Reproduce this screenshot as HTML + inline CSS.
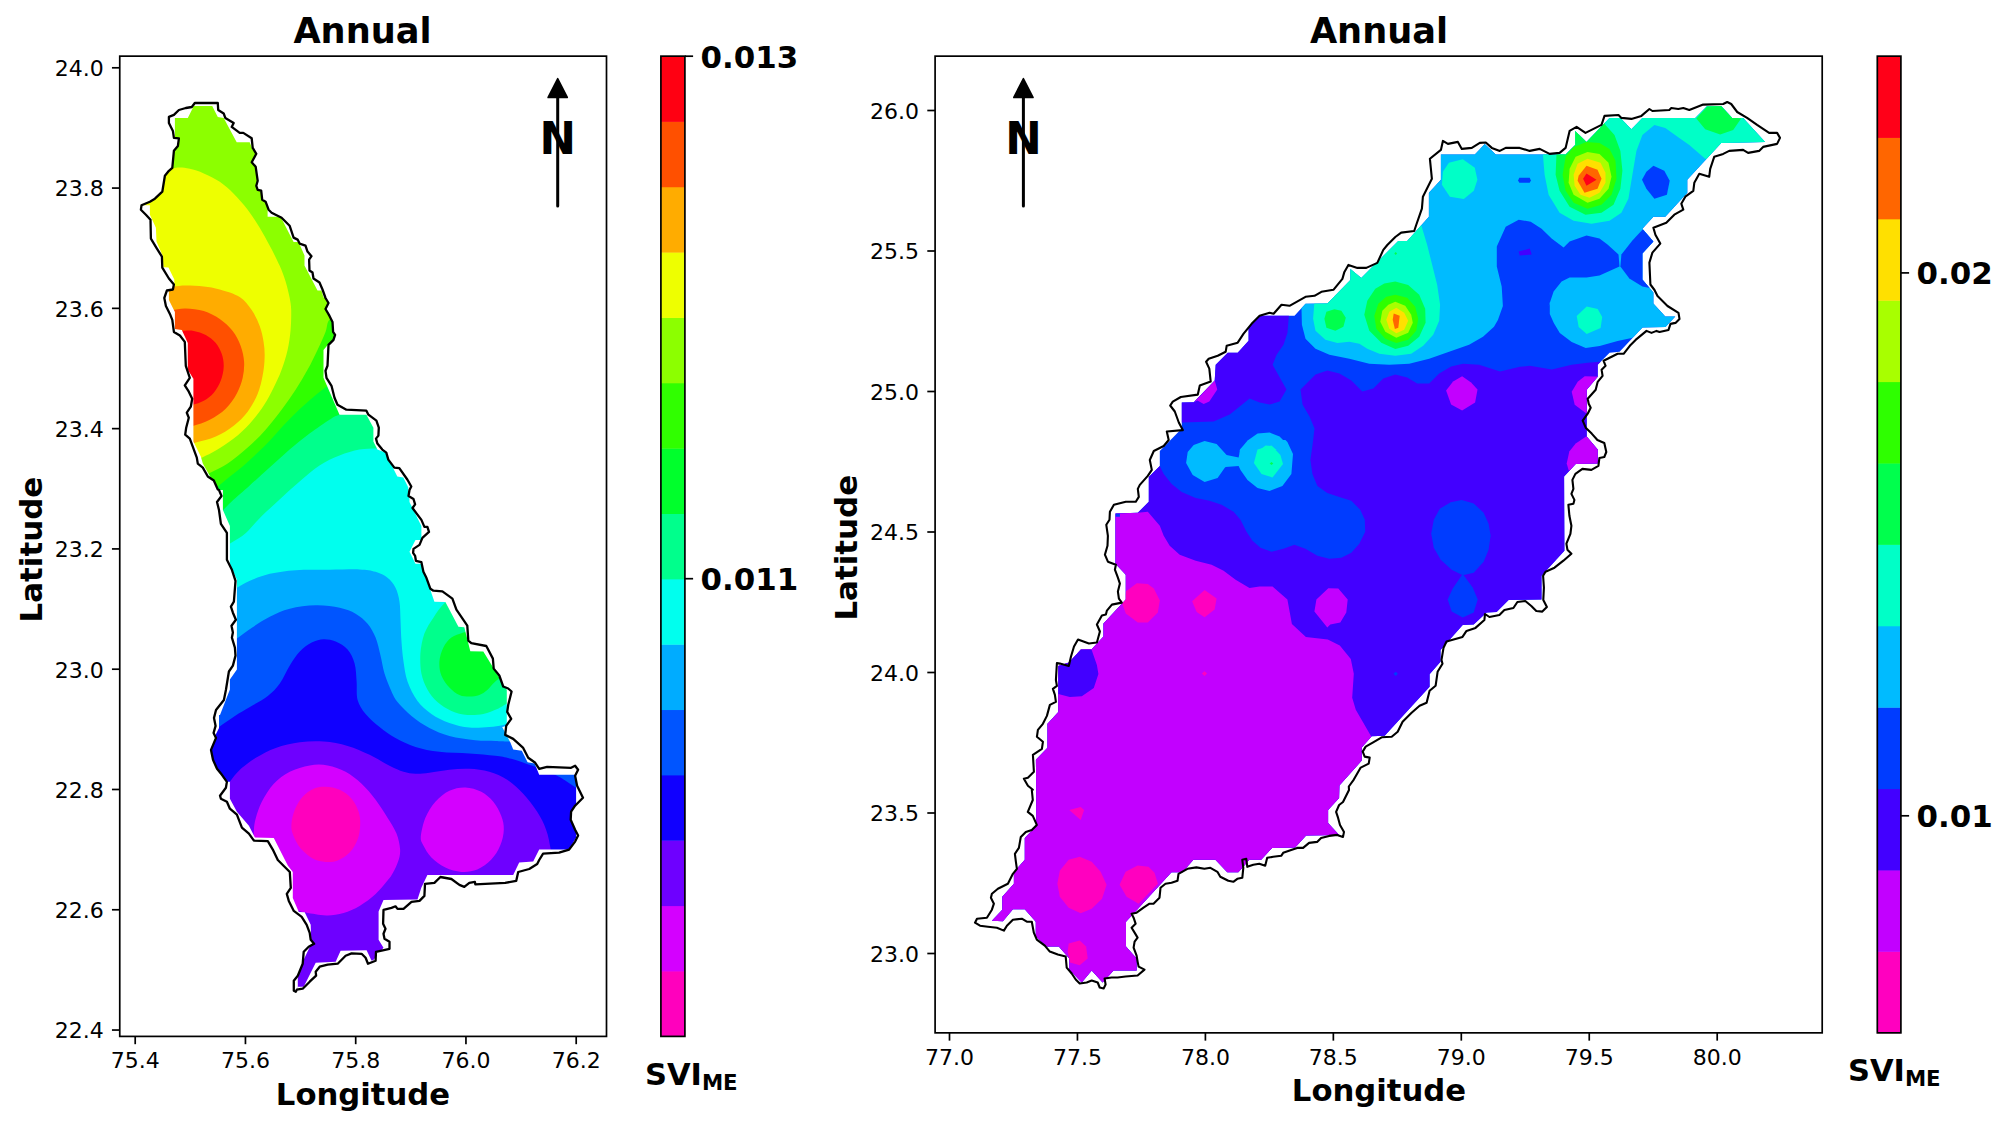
<!DOCTYPE html>
<html lang="en"><head><meta charset="utf-8"><title>Annual SVI maps</title>
<style>html,body{margin:0;padding:0;background:#fff}body{width:2008px;height:1128px;overflow:hidden}svg{display:block}</style>
</head><body>
<svg width="2008" height="1128" viewBox="0 0 2008 1128" font-family="'DejaVu Sans','Liberation Sans',sans-serif" fill="#000">
<rect width="2008" height="1128" fill="#fff"/>
<g>
<clipPath id="clip1"><path d="M194.8 103.0 L217.8 103.0 L218.2 110.0 L223.7 113.5 L225.3 117.9 L233.7 122.9 L231.7 126.9 L239.7 132.9 L243.3 132.9 L251.7 138.3 L252.7 147.9 L256.3 153.8 L251.7 162.2 L255.7 166.8 L257.7 180.8 L256.3 185.8 L257.7 189.8 L261.2 190.7 L262.2 199.7 L265.6 201.7 L268.6 209.7 L271.6 212.7 L281.6 217.7 L289.6 225.7 L293.6 237.6 L297.6 239.6 L299.6 243.6 L305.5 245.6 L307.5 251.6 L311.5 256.2 L309.1 259.6 L309.5 270.5 L312.5 272.5 L313.5 278.5 L319.5 282.5 L322.5 289.5 L325.5 298.0 L328.5 303.0 L325.5 309.0 L329.5 315.9 L332.5 321.9 L333.1 331.9 L335.1 334.9 L333.5 339.9 L328.5 344.9 L327.5 365.8 L325.5 370.8 L326.5 377.8 L331.5 385.8 L334.5 397.7 L337.5 404.7 L346.4 409.7 L366.4 410.7 L368.4 414.7 L376.4 420.7 L378.8 427.7 L378.4 435.6 L376.0 438.6 L377.4 443.6 L382.3 449.6 L386.3 452.6 L388.3 459.6 L394.3 467.6 L399.3 468.2 L407.3 479.5 L411.3 486.5 L409.5 490.0 L408.5 496.0 L413.5 499.0 L415.1 504.4 L412.5 508.0 L421.4 519.9 L424.4 526.9 L427.4 526.9 L429.0 531.9 L422.4 537.9 L419.5 544.9 L413.5 548.9 L413.1 552.8 L415.1 555.8 L415.9 560.8 L421.4 562.2 L423.4 571.8 L426.4 577.8 L430.4 588.8 L433.4 590.7 L442.4 591.3 L452.4 598.7 L456.4 609.7 L467.3 625.7 L468.3 640.6 L471.3 643.2 L486.3 646.0 L492.9 658.6 L493.7 668.6 L499.3 675.5 L503.2 686.5 L508.2 688.5 L511.6 691.5 L508.2 705.0 L507.2 711.9 L511.2 718.9 L506.2 725.9 L505.2 734.9 L513.2 738.9 L523.2 747.9 L528.2 757.8 L535.2 762.8 L539.2 768.8 L547.1 766.8 L571.1 767.8 L575.1 765.8 L578.1 769.8 L575.1 775.8 L577.1 785.8 L583.0 797.7 L575.1 805.7 L571.1 811.7 L570.7 819.7 L575.1 829.7 L578.1 835.6 L575.1 841.6 L569.1 849.6 L559.1 852.6 L543.1 853.6 L539.2 860.0 L537.2 864.0 L529.2 869.0 L518.2 872.0 L516.2 880.9 L505.2 882.9 L475.3 884.3 L474.9 881.9 L469.3 882.9 L464.3 886.9 L459.4 884.9 L451.4 879.0 L440.4 877.0 L434.4 882.9 L425.0 883.9 L424.4 895.9 L419.5 900.9 L411.5 901.9 L403.5 908.9 L397.5 908.9 L395.5 906.3 L391.5 907.9 L383.5 909.9 L383.1 923.8 L385.5 928.8 L383.5 933.8 L384.5 938.8 L389.5 941.8 L389.5 948.8 L376.0 951.8 L375.6 960.7 L368.0 963.7 L365.6 957.8 L361.6 953.8 L351.6 953.4 L345.6 955.8 L337.7 963.7 L327.7 964.7 L319.7 966.7 L315.7 971.7 L316.1 975.7 L309.7 981.7 L302.7 988.7 L296.8 989.7 L295.8 991.7 L293.8 990.7 L293.8 980.7 L297.8 975.7 L302.7 963.7 L303.7 951.8 L308.7 946.8 L314.1 943.8 L310.7 939.8 L309.7 932.8 L306.7 924.8 L301.7 916.9 L293.8 910.9 L288.8 900.9 L286.8 893.9 L290.8 887.9 L289.8 872.0 L283.8 866.0 L277.8 860.0 L272.8 849.6 L267.8 841.2 L253.9 840.6 L248.9 833.6 L241.9 827.7 L236.9 814.7 L229.9 808.7 L226.9 801.7 L220.9 798.7 L220.0 795.7 L225.9 787.8 L226.9 781.8 L221.9 774.8 L217.0 768.8 L213.0 759.8 L211.0 749.9 L216.0 737.9 L213.6 732.9 L215.6 725.9 L214.0 717.9 L216.0 710.0 L223.9 700.0 L225.9 690.0 L228.9 671.5 L232.9 665.6 L235.5 655.6 L234.9 647.6 L231.9 637.6 L232.9 632.6 L231.5 625.7 L235.9 619.7 L232.9 612.7 L230.9 606.7 L233.9 601.7 L235.5 580.8 L231.9 569.8 L226.9 559.8 L226.9 532.9 L220.9 523.9 L219.0 510.0 L217.0 502.0 L221.5 496.0 L219.0 490.0 L217.8 489.5 L213.8 480.5 L207.8 476.5 L202.8 467.6 L197.8 463.6 L196.8 457.6 L189.8 438.6 L185.2 434.6 L186.2 427.7 L188.8 417.7 L186.8 412.7 L190.8 406.7 L192.2 398.7 L188.8 391.7 L184.8 385.4 L189.8 377.8 L185.8 365.8 L184.8 341.9 L179.9 335.5 L173.9 331.9 L172.3 319.9 L169.9 313.9 L165.9 306.0 L164.3 298.0 L166.9 290.5 L172.9 289.5 L173.9 284.5 L168.9 278.5 L162.3 267.6 L161.9 256.6 L156.9 248.6 L150.9 238.6 L150.5 219.7 L145.9 214.7 L140.9 209.7 L141.5 205.3 L149.9 201.7 L154.9 198.7 L162.3 191.7 L164.9 175.8 L168.9 170.8 L172.3 167.8 L173.9 150.8 L177.9 145.9 L178.9 138.3 L173.9 137.9 L172.9 130.9 L168.9 122.9 L168.9 116.9 L173.9 114.9 L178.9 110.0 L185.8 108.0 L191.8 107.0 Z"/></clipPath>
<g clip-path="url(#clip1)">
<rect x="120" y="90" width="480" height="920" fill="#8cff00"/>
<path d="M155.9 169.8 C158.6 169.5 168.3 168.6 172.3 168.2 C176.3 167.8 176.9 167.3 179.9 167.4 C182.8 167.5 185.8 167.8 189.8 168.8 C193.8 169.8 198.8 171.2 203.8 173.4 C208.8 175.6 214.8 178.4 219.8 181.8 C224.7 185.2 229.1 189.1 233.7 193.7 C238.4 198.4 243.4 204.0 247.7 209.7 C252.0 215.4 256.0 221.7 259.7 227.7 C263.3 233.6 266.3 239.3 269.6 245.6 C273.0 251.9 276.9 259.6 279.6 265.6 C282.3 271.5 283.9 276.2 285.6 281.5 C287.2 286.8 288.6 292.7 289.6 297.5 C290.5 302.2 291.0 304.5 291.2 310.0 C291.3 315.4 291.2 323.3 290.6 329.9 C290.0 336.6 289.1 343.2 287.6 349.9 C286.1 356.5 283.9 363.5 281.6 369.8 C279.3 376.1 276.6 381.8 273.6 387.8 C270.6 393.7 267.6 399.7 263.6 405.7 C259.7 411.7 254.7 418.2 249.7 423.7 C244.7 429.2 239.4 434.1 233.7 438.6 C228.1 443.1 220.9 447.5 215.8 450.6 C210.6 453.7 207.4 455.0 202.8 457.2 C198.1 459.3 190.3 462.5 187.8 463.6 L130.0 480.0 L130.0 160.0 Z" fill="#eeff00"/>
<path d="M159.9 287.5 C162.1 287.3 168.5 286.8 172.9 286.5 C177.2 286.2 180.7 285.5 185.8 285.5 C191.0 285.5 198.1 285.8 203.8 286.5 C209.4 287.2 213.8 287.8 219.8 289.5 C225.7 291.2 234.4 293.6 239.7 297.0 C245.0 300.4 248.3 305.1 251.7 310.0 C255.0 314.8 257.7 320.6 259.7 325.9 C261.6 331.2 262.8 336.6 263.6 341.9 C264.5 347.2 264.8 352.2 264.6 357.8 C264.5 363.5 263.8 369.8 262.6 375.8 C261.5 381.8 260.1 387.8 257.7 393.7 C255.2 399.7 251.7 406.4 247.7 411.7 C243.7 417.0 239.0 421.5 233.7 425.7 C228.4 429.8 222.1 433.8 215.8 436.6 C209.4 439.5 201.8 441.0 195.8 442.6 C189.8 444.3 182.5 445.9 179.9 446.6 L140.0 450.0 L140.0 285.0 Z" fill="#ffac00"/>
<path d="M159.9 310.9 C161.8 310.8 167.1 310.4 171.5 310.0 C175.8 309.5 180.4 308.2 185.8 308.4 C191.2 308.5 198.1 309.2 203.8 310.9 C209.4 312.7 214.9 315.6 219.8 318.9 C224.6 322.3 229.2 326.4 232.7 330.9 C236.2 335.4 238.8 340.7 240.7 345.9 C242.6 351.0 243.8 356.5 244.1 361.8 C244.4 367.1 243.9 372.5 242.7 377.8 C241.5 383.1 239.5 388.6 236.7 393.7 C233.9 398.9 230.2 404.4 225.7 408.7 C221.2 413.0 215.3 416.8 209.8 419.7 C204.3 422.6 197.8 424.4 192.8 426.1 C187.8 427.7 182.0 429.1 179.9 429.7 L140.0 430.0 L140.0 310.0 Z" fill="#ff5000"/>
<path d="M175.9 331.9 C176.9 331.7 178.9 331.1 181.8 330.9 C184.8 330.7 189.8 330.2 193.8 330.9 C197.8 331.6 202.1 332.9 205.8 334.9 C209.4 336.9 213.1 339.7 215.8 342.9 C218.4 346.0 220.4 349.9 221.7 353.8 C223.1 357.8 223.9 362.3 223.7 366.8 C223.6 371.3 222.4 376.5 220.7 380.8 C219.1 385.1 216.6 389.4 213.8 392.7 C210.9 396.1 207.3 398.7 203.8 400.7 C200.3 402.7 196.1 403.7 192.8 404.7 C189.5 405.7 185.3 406.4 183.8 406.7 L150.0 400.0 L150.0 330.0 Z" fill="#ff0012"/>
<path d="M339.5 313.9 C337.7 314.9 331.4 316.9 329.1 319.9 C326.7 322.9 327.4 326.9 325.5 331.9 C323.6 336.9 320.5 343.5 317.5 349.9 C314.5 356.2 311.2 363.2 307.5 369.8 C303.9 376.5 299.9 383.1 295.6 389.8 C291.2 396.4 286.6 403.1 281.6 409.7 C276.6 416.4 271.3 423.3 265.6 429.7 C260.0 436.0 254.0 442.0 247.7 447.6 C241.4 453.3 233.9 459.4 227.7 463.6 C221.6 467.7 216.1 469.9 210.8 472.5 C205.5 475.2 198.3 478.4 195.8 479.5 L120.0 520.0 L120.0 1010.0 L620.0 1010.0 L620.0 300.0 Z" fill="#30ff00"/>
<path d="M336.2 381.3 C334.2 382.5 327.9 385.8 324.1 388.4 C320.3 391.0 317.6 393.3 313.5 396.9 C309.3 400.4 304.0 405.2 299.3 409.6 C294.6 414.1 289.8 418.9 285.1 423.8 C280.4 428.8 275.7 434.5 270.9 439.4 C266.2 444.4 261.5 449.1 256.7 453.6 C252.0 458.1 247.3 462.4 242.6 466.4 C237.8 470.4 232.2 474.7 228.4 477.7 C224.6 480.8 223.2 482.2 219.9 484.8 C216.5 487.4 210.4 491.9 208.5 493.3 L120.0 540.0 L120.0 1010.0 L620.0 1010.0 L620.0 350.0 Z" fill="#00ff2c"/>
<path d="M355.4 411.7 C352.8 412.2 343.8 413.4 339.5 414.7 C335.1 416.0 334.5 416.5 329.5 419.7 C324.5 422.8 316.2 428.7 309.5 433.6 C302.9 438.6 296.2 443.9 289.6 449.6 C282.9 455.3 276.3 461.6 269.6 467.6 C263.0 473.5 256.0 479.9 249.7 485.5 C243.4 491.2 236.3 497.2 231.7 501.5 C227.1 505.7 225.2 508.4 221.9 510.9 C218.7 513.5 213.6 515.9 212.0 516.9 L120.0 560.0 L120.0 1010.0 L620.0 1010.0 L620.0 400.0 Z" fill="#00ff8c"/>
<path d="M387.3 447.6 C385.5 447.8 381.0 448.3 376.4 448.6 C371.7 448.9 365.6 448.4 359.4 449.6 C353.3 450.8 346.1 452.9 339.5 455.6 C332.8 458.2 326.2 461.2 319.5 465.6 C312.9 469.9 306.2 475.9 299.6 481.5 C292.9 487.2 286.2 493.4 279.6 499.5 C273.0 505.5 265.5 512.4 259.9 517.9 C254.2 523.5 250.7 528.7 245.9 532.9 C241.1 537.0 235.6 540.0 230.9 542.9 C226.3 545.7 220.1 548.7 218.0 549.9 L120.0 600.0 L120.0 1010.0 L620.0 1010.0 L620.0 440.0 Z" fill="#00ffee"/>
<path d="M223.9 594.7 C226.1 593.6 232.6 590.1 236.9 587.8 C241.2 585.4 244.4 583.1 249.9 580.8 C255.4 578.4 262.2 575.6 269.8 573.8 C277.5 572.0 285.8 570.9 295.8 570.2 C305.7 569.5 319.0 569.9 329.7 569.8 C340.3 569.7 352.0 569.1 359.6 569.4 C367.2 569.7 370.9 570.4 375.6 571.8 C380.2 573.2 384.2 575.1 387.5 577.8 C390.9 580.4 393.5 583.8 395.5 587.8 C397.5 591.7 398.7 596.4 399.5 601.7 C400.3 607.0 400.2 613.0 400.5 619.7 C400.8 626.3 401.0 634.6 401.5 641.6 C402.0 648.6 402.5 654.9 403.5 661.6 C404.5 668.2 405.2 675.0 407.5 681.5 C409.8 688.1 413.5 695.6 417.5 701.0 C421.4 706.4 426.1 710.3 431.4 713.9 C436.7 717.6 443.1 720.7 449.4 722.9 C455.7 725.2 462.7 726.8 469.3 727.5 C476.0 728.2 483.6 727.3 489.3 726.9 C494.9 726.5 498.3 726.1 503.2 724.9 C508.2 723.7 516.5 720.8 519.2 719.9 L620.0 720.0 L620.0 1010.0 L120.0 1010.0 L120.0 600.0 Z" fill="#00acff"/>
<path d="M223.9 647.6 C226.1 646.1 232.3 642.0 236.9 638.6 C241.6 635.3 246.4 631.3 251.9 627.7 C257.4 624.0 263.5 619.8 269.8 616.7 C276.1 613.5 282.1 610.6 289.8 608.7 C297.4 606.8 307.4 605.5 315.7 605.3 C324.0 605.1 333.0 606.3 339.7 607.7 C346.3 609.1 351.0 611.0 355.6 613.7 C360.3 616.4 364.3 619.7 367.6 623.7 C370.9 627.7 373.4 632.3 375.6 637.6 C377.7 643.0 379.1 649.6 380.5 655.6 C382.0 661.6 382.7 667.6 384.5 673.5 C386.4 679.5 389.4 686.8 391.5 691.5 C393.7 696.2 394.2 697.9 397.5 702.0 C400.8 706.0 406.2 711.6 411.5 715.9 C416.8 720.3 423.1 724.6 429.4 727.9 C435.7 731.2 441.7 733.8 449.4 735.9 C457.0 737.9 467.7 739.4 475.3 740.3 C483.0 741.1 489.8 740.7 495.3 740.9 C500.7 741.1 502.6 741.2 508.2 741.5 C513.9 741.7 525.7 742.1 529.2 742.3 L620.0 745.0 L620.0 1010.0 L120.0 1010.0 L120.0 650.0 Z" fill="#0055ff"/>
<path d="M206.0 735.9 C208.1 734.4 214.1 730.2 219.0 726.9 C223.8 723.6 229.8 719.3 234.9 715.9 C240.1 712.6 244.4 710.3 249.9 707.0 C255.4 703.6 262.8 699.9 267.8 696.0 C272.8 692.1 276.1 688.6 279.8 683.5 C283.5 678.4 286.5 670.9 289.8 665.6 C293.1 660.2 296.1 655.4 299.8 651.6 C303.4 647.8 307.7 644.7 311.7 642.6 C315.7 640.6 319.7 639.4 323.7 639.2 C327.7 639.1 331.7 639.9 335.7 641.6 C339.7 643.3 344.5 645.9 347.6 649.6 C350.8 653.3 353.1 658.2 354.6 663.6 C356.1 668.9 356.1 675.5 356.6 681.5 C357.1 687.6 356.1 694.6 357.6 700.0 C359.1 705.4 361.9 709.5 365.6 713.9 C369.2 718.4 374.6 722.9 379.6 726.9 C384.5 730.9 389.5 734.6 395.5 737.9 C401.5 741.2 408.1 744.5 415.5 746.9 C422.8 749.2 430.4 750.7 439.4 751.8 C448.4 752.9 460.0 752.8 469.3 753.4 C478.6 754.1 488.3 754.9 495.3 755.8 C502.2 756.7 504.6 757.0 511.2 758.8 C517.9 760.7 527.5 764.0 535.2 766.8 C542.8 769.6 551.8 773.3 557.1 775.8 C562.4 778.3 563.9 779.8 567.1 781.8 C570.2 783.8 572.1 785.4 576.1 787.8 C580.0 790.1 588.5 794.4 591.0 795.7 L620.0 800.0 L620.0 1010.0 L120.0 1010.0 L120.0 740.0 Z" fill="#1000ff"/>
<path d="M220.0 795.7 C221.6 793.4 226.6 786.1 229.9 781.8 C233.3 777.4 235.6 773.8 239.9 769.8 C244.2 765.8 249.9 761.5 255.9 757.8 C261.8 754.2 268.5 750.4 275.8 747.9 C283.1 745.3 291.8 743.3 299.8 742.3 C307.7 741.2 315.7 740.9 323.7 741.5 C331.7 742.1 340.0 743.6 347.6 745.9 C355.3 748.1 362.6 751.5 369.6 754.8 C376.6 758.2 383.9 763.0 389.5 765.8 C395.2 768.6 399.2 770.5 403.5 771.8 C407.8 773.1 411.1 773.6 415.5 773.8 C419.8 774.0 423.8 773.5 429.4 772.8 C435.1 772.1 442.7 770.5 449.4 769.8 C456.0 769.1 462.7 768.5 469.3 768.8 C476.0 769.1 483.0 770.0 489.3 771.8 C495.6 773.6 501.6 776.1 507.2 779.8 C512.9 783.4 518.2 788.4 523.2 793.7 C528.2 799.1 533.3 805.7 537.2 811.7 C541.0 817.7 543.9 823.3 546.1 829.7 C548.4 836.0 549.6 843.0 550.7 849.6 C551.9 856.3 552.7 866.2 553.1 869.6 L560.0 1010.0 L120.0 1010.0 L120.0 800.0 Z" fill="#6e00ff"/>
<path d="M253.9 841.6 C253.9 839.6 253.5 833.6 253.9 829.7 C254.2 825.7 254.5 822.3 255.9 817.7 C257.2 813.0 258.9 807.4 261.8 801.7 C264.8 796.1 269.2 788.8 273.8 783.8 C278.5 778.8 283.8 774.9 289.8 771.8 C295.8 768.7 303.4 766.5 309.7 765.4 C316.0 764.3 321.7 764.3 327.7 765.4 C333.7 766.5 340.0 768.7 345.6 771.8 C351.3 774.9 356.6 779.1 361.6 783.8 C366.6 788.4 371.2 794.1 375.6 799.7 C379.9 805.4 384.0 812.0 387.5 817.7 C391.0 823.3 394.4 828.3 396.5 833.6 C398.6 839.0 399.8 844.9 400.1 849.6 C400.4 854.3 399.3 857.7 398.1 861.6 C396.9 865.4 394.9 869.4 393.1 872.5 C391.4 875.7 390.5 877.0 387.5 880.5 C384.6 884.1 380.2 889.7 375.6 893.9 C370.9 898.1 364.9 902.7 359.6 905.9 C354.3 909.0 349.0 911.3 343.6 912.9 C338.3 914.5 332.3 915.2 327.7 915.5 C323.0 915.7 319.5 914.8 315.7 914.3 C311.9 913.7 309.4 913.3 304.7 912.3 C300.1 911.2 290.6 908.6 287.8 907.9 L250.0 900.0 Z" fill="#d400ff"/>
<path d="M420.8 836.6 C421.2 832.0 423.0 823.5 425.4 817.7 C427.9 811.9 431.4 806.2 435.4 801.7 C439.4 797.2 444.4 793.1 449.4 790.7 C454.4 788.4 460.0 787.2 465.3 787.4 C470.7 787.5 476.6 789.4 481.3 791.7 C486.0 794.1 489.9 797.7 493.3 801.7 C496.6 805.7 499.5 811.0 501.2 815.7 C503.0 820.3 504.0 824.7 503.8 829.7 C503.7 834.6 502.3 840.6 500.2 845.6 C498.2 850.6 495.1 855.6 491.3 859.6 C487.4 863.6 482.3 867.5 477.3 869.6 C472.3 871.6 466.7 872.3 461.3 871.9 C456.0 871.6 450.4 870.0 445.4 867.6 C440.4 865.2 435.1 861.2 431.4 857.6 C427.8 853.9 425.2 849.1 423.4 845.6 C421.7 842.1 420.5 841.3 420.8 836.6 Z" fill="#d400ff"/>
<path d="M325.7 786.8 C330.0 786.9 335.3 787.8 339.7 789.8 C344.0 791.7 348.5 795.1 351.6 798.7 C354.8 802.4 357.2 807.4 358.6 811.7 C360.0 816.0 360.4 820.0 360.2 824.7 C360.0 829.3 359.4 835.0 357.6 839.6 C355.8 844.3 353.0 849.1 349.6 852.6 C346.3 856.1 341.6 859.0 337.7 860.6 C333.7 862.1 329.8 862.3 325.7 862.0 C321.5 861.6 316.9 860.8 312.7 858.6 C308.6 856.4 304.0 852.4 300.7 848.6 C297.5 844.8 294.9 839.6 293.4 835.6 C291.8 831.6 291.1 829.0 291.4 824.7 C291.6 820.3 292.9 814.4 294.8 809.7 C296.7 805.0 299.6 800.2 302.7 796.7 C305.9 793.2 309.9 790.4 313.7 788.8 C317.5 787.1 321.4 786.6 325.7 786.8 Z" fill="#ff00bd"/>
<path d="M459.4 593.7 C456.9 595.3 448.7 599.3 444.4 603.3 C440.1 607.3 436.7 612.6 433.4 617.7 C430.1 622.7 426.6 627.7 424.4 633.6 C422.3 639.6 420.9 646.9 420.4 653.6 C420.0 660.2 420.3 667.6 421.4 673.5 C422.6 679.5 424.8 684.8 427.4 689.5 C430.1 694.2 433.4 698.4 437.4 702.0 C441.4 705.5 446.4 708.8 451.4 710.9 C456.4 713.1 462.0 714.4 467.3 714.9 C472.7 715.4 478.3 714.9 483.3 713.9 C488.3 712.9 493.4 710.6 497.3 709.0 C501.1 707.3 501.9 706.5 506.2 704.0 C510.6 701.5 520.4 695.7 523.2 694.0 L620.0 600.0 Z" fill="#00ff8c"/>
<path d="M479.3 627.7 C476.6 628.5 468.0 631.0 463.3 632.6 C458.7 634.3 454.7 635.1 451.4 637.6 C448.0 640.1 445.4 643.6 443.4 647.6 C441.4 651.6 439.7 656.9 439.4 661.6 C439.1 666.2 439.7 671.2 441.4 675.5 C443.1 679.9 446.4 684.3 449.4 687.5 C452.4 690.7 456.0 693.5 459.4 695.0 C462.7 696.5 466.0 696.6 469.3 696.6 C472.7 696.6 476.3 696.1 479.3 695.0 C482.3 693.9 484.6 692.2 487.3 690.0 C489.9 687.8 491.3 684.9 495.3 681.5 C499.3 678.1 508.6 671.5 511.2 669.6 L620.0 640.0 Z" fill="#00ff2c"/>
<path d="M159.9 100.0 L193.8 100.0 L193.8 106.0 L187.8 117.9 L174.9 117.9 L174.9 136.9 L159.9 136.9 Z" fill="#fff"/>
<path d="M193.8 100.0 L193.8 106.0 L212.2 106.0 L217.8 116.9 L223.7 117.9 L236.7 142.3 L249.7 142.3 L252.7 149.9 L271.6 149.9 L271.6 100.0 Z" fill="#fff"/>
<path d="M267.6 209.7 L267.6 216.7 L280.6 216.7 L293.6 242.0 L298.6 242.0 L304.5 255.6 L304.5 265.6 L317.5 290.5 L321.5 290.5 L323.5 297.5 L339.5 297.5 L339.5 209.7 Z" fill="#fff"/>
<path d="M506.8 690.0 L506.8 725.9 L502.2 726.9 L510.4 742.5 L513.2 749.5 L521.8 750.8 L527.6 762.2 L534.6 763.6 L539.2 774.8 L576.1 774.8 L576.1 837.6 L569.1 849.6 L539.2 849.6 L533.2 861.6 L519.2 862.6 L513.2 875.1 L427.4 875.1 L421.4 887.5 L417.5 899.5 L383.5 899.9 L378.6 911.4 L378.6 909.9 L378.6 939.8 L383.5 947.8 L373.6 959.8 L371.6 960.7 L366.6 950.2 L340.6 950.8 L335.7 961.7 L315.7 962.7 L303.7 986.7 L297.8 986.7 L297.8 999.7 L620.0 1000.0 L620.0 690.0 Z" fill="#fff"/>
<path d="M138.0 205.3 L149.9 205.3 L149.9 214.7 L155.9 227.7 L156.5 241.6 L162.5 255.6 L163.5 267.2 L168.5 267.6 L174.3 279.5 L174.3 286.5 L138.0 286.5 Z" fill="#fff"/>
<path d="M140.0 290.0 L168.9 290.0 L168.9 300.0 L174.9 311.9 L174.9 328.9 L181.8 329.9 L187.8 342.9 L187.8 369.8 L193.4 378.8 L193.4 441.6 L200.8 456.6 L202.8 463.6 L211.8 479.5 L219.8 493.5 L140.0 493.5 Z" fill="#fff"/>
<path d="M328.5 343.9 L323.5 349.9 L323.5 377.8 L339.5 414.7 L366.4 414.7 L373.4 427.7 L373.4 441.6 L377.4 449.6 L385.3 452.6 L397.3 476.5 L403.3 477.5 L408.3 487.5 L408.3 495.5 L415.3 509.5 L459.2 509.5 L459.2 343.9 Z" fill="#fff"/>
<path d="M409.5 490.0 L409.5 502.0 L421.4 525.9 L421.4 539.9 L415.5 539.9 L409.5 551.8 L415.5 563.8 L421.4 563.8 L434.4 601.7 L445.4 602.1 L458.4 626.7 L464.3 627.3 L470.3 651.2 L483.3 651.6 L507.2 690.5 L508.2 715.0 L579.1 715.0 L579.1 490.0 Z" fill="#fff"/>
<path d="M200.0 490.0 L222.9 490.0 L222.9 510.0 L229.9 525.9 L229.9 563.8 L236.9 579.8 L236.9 669.6 L229.9 679.5 L229.9 689.5 L220.0 715.0 L200.0 715.0 Z" fill="#fff"/>
<path d="M200.0 690.0 L225.9 690.0 L219.0 706.0 L219.0 727.9 L215.0 735.9 L200.0 735.9 Z" fill="#fff"/>
<path d="M229.9 781.8 L229.9 798.7 L236.9 811.7 L248.9 825.7 L254.9 837.6 L273.8 838.0 L287.8 865.6 L292.8 872.0 L292.8 897.9 L298.8 911.9 L304.7 912.3 L310.7 924.8 L311.3 943.8 L303.7 959.8 L297.8 977.7 L297.8 999.7 L100.0 1000.0 L100.0 781.0 Z" fill="#fff"/>
</g>
<path d="M194.8 103.0 L217.8 103.0 L218.2 110.0 L223.7 113.5 L225.3 117.9 L233.7 122.9 L231.7 126.9 L239.7 132.9 L243.3 132.9 L251.7 138.3 L252.7 147.9 L256.3 153.8 L251.7 162.2 L255.7 166.8 L257.7 180.8 L256.3 185.8 L257.7 189.8 L261.2 190.7 L262.2 199.7 L265.6 201.7 L268.6 209.7 L271.6 212.7 L281.6 217.7 L289.6 225.7 L293.6 237.6 L297.6 239.6 L299.6 243.6 L305.5 245.6 L307.5 251.6 L311.5 256.2 L309.1 259.6 L309.5 270.5 L312.5 272.5 L313.5 278.5 L319.5 282.5 L322.5 289.5 L325.5 298.0 L328.5 303.0 L325.5 309.0 L329.5 315.9 L332.5 321.9 L333.1 331.9 L335.1 334.9 L333.5 339.9 L328.5 344.9 L327.5 365.8 L325.5 370.8 L326.5 377.8 L331.5 385.8 L334.5 397.7 L337.5 404.7 L346.4 409.7 L366.4 410.7 L368.4 414.7 L376.4 420.7 L378.8 427.7 L378.4 435.6 L376.0 438.6 L377.4 443.6 L382.3 449.6 L386.3 452.6 L388.3 459.6 L394.3 467.6 L399.3 468.2 L407.3 479.5 L411.3 486.5 L409.5 490.0 L408.5 496.0 L413.5 499.0 L415.1 504.4 L412.5 508.0 L421.4 519.9 L424.4 526.9 L427.4 526.9 L429.0 531.9 L422.4 537.9 L419.5 544.9 L413.5 548.9 L413.1 552.8 L415.1 555.8 L415.9 560.8 L421.4 562.2 L423.4 571.8 L426.4 577.8 L430.4 588.8 L433.4 590.7 L442.4 591.3 L452.4 598.7 L456.4 609.7 L467.3 625.7 L468.3 640.6 L471.3 643.2 L486.3 646.0 L492.9 658.6 L493.7 668.6 L499.3 675.5 L503.2 686.5 L508.2 688.5 L511.6 691.5 L508.2 705.0 L507.2 711.9 L511.2 718.9 L506.2 725.9 L505.2 734.9 L513.2 738.9 L523.2 747.9 L528.2 757.8 L535.2 762.8 L539.2 768.8 L547.1 766.8 L571.1 767.8 L575.1 765.8 L578.1 769.8 L575.1 775.8 L577.1 785.8 L583.0 797.7 L575.1 805.7 L571.1 811.7 L570.7 819.7 L575.1 829.7 L578.1 835.6 L575.1 841.6 L569.1 849.6 L559.1 852.6 L543.1 853.6 L539.2 860.0 L537.2 864.0 L529.2 869.0 L518.2 872.0 L516.2 880.9 L505.2 882.9 L475.3 884.3 L474.9 881.9 L469.3 882.9 L464.3 886.9 L459.4 884.9 L451.4 879.0 L440.4 877.0 L434.4 882.9 L425.0 883.9 L424.4 895.9 L419.5 900.9 L411.5 901.9 L403.5 908.9 L397.5 908.9 L395.5 906.3 L391.5 907.9 L383.5 909.9 L383.1 923.8 L385.5 928.8 L383.5 933.8 L384.5 938.8 L389.5 941.8 L389.5 948.8 L376.0 951.8 L375.6 960.7 L368.0 963.7 L365.6 957.8 L361.6 953.8 L351.6 953.4 L345.6 955.8 L337.7 963.7 L327.7 964.7 L319.7 966.7 L315.7 971.7 L316.1 975.7 L309.7 981.7 L302.7 988.7 L296.8 989.7 L295.8 991.7 L293.8 990.7 L293.8 980.7 L297.8 975.7 L302.7 963.7 L303.7 951.8 L308.7 946.8 L314.1 943.8 L310.7 939.8 L309.7 932.8 L306.7 924.8 L301.7 916.9 L293.8 910.9 L288.8 900.9 L286.8 893.9 L290.8 887.9 L289.8 872.0 L283.8 866.0 L277.8 860.0 L272.8 849.6 L267.8 841.2 L253.9 840.6 L248.9 833.6 L241.9 827.7 L236.9 814.7 L229.9 808.7 L226.9 801.7 L220.9 798.7 L220.0 795.7 L225.9 787.8 L226.9 781.8 L221.9 774.8 L217.0 768.8 L213.0 759.8 L211.0 749.9 L216.0 737.9 L213.6 732.9 L215.6 725.9 L214.0 717.9 L216.0 710.0 L223.9 700.0 L225.9 690.0 L228.9 671.5 L232.9 665.6 L235.5 655.6 L234.9 647.6 L231.9 637.6 L232.9 632.6 L231.5 625.7 L235.9 619.7 L232.9 612.7 L230.9 606.7 L233.9 601.7 L235.5 580.8 L231.9 569.8 L226.9 559.8 L226.9 532.9 L220.9 523.9 L219.0 510.0 L217.0 502.0 L221.5 496.0 L219.0 490.0 L217.8 489.5 L213.8 480.5 L207.8 476.5 L202.8 467.6 L197.8 463.6 L196.8 457.6 L189.8 438.6 L185.2 434.6 L186.2 427.7 L188.8 417.7 L186.8 412.7 L190.8 406.7 L192.2 398.7 L188.8 391.7 L184.8 385.4 L189.8 377.8 L185.8 365.8 L184.8 341.9 L179.9 335.5 L173.9 331.9 L172.3 319.9 L169.9 313.9 L165.9 306.0 L164.3 298.0 L166.9 290.5 L172.9 289.5 L173.9 284.5 L168.9 278.5 L162.3 267.6 L161.9 256.6 L156.9 248.6 L150.9 238.6 L150.5 219.7 L145.9 214.7 L140.9 209.7 L141.5 205.3 L149.9 201.7 L154.9 198.7 L162.3 191.7 L164.9 175.8 L168.9 170.8 L172.3 167.8 L173.9 150.8 L177.9 145.9 L178.9 138.3 L173.9 137.9 L172.9 130.9 L168.9 122.9 L168.9 116.9 L173.9 114.9 L178.9 110.0 L185.8 108.0 L191.8 107.0 Z" fill="none" stroke="#000" stroke-width="2.3" stroke-linejoin="round"/>
</g>
<g>
<clipPath id="clip2"><path d="M1181.8 428.5 L1181.8 402.6 L1193.8 402.2 L1214.7 380.6 L1215.7 364.7 L1227.7 352.7 L1237.7 352.7 L1248.6 340.7 L1248.6 327.7 L1260.6 315.8 L1294.5 315.8 L1305.5 303.8 L1327.4 303.4 L1350.4 279.9 L1350.4 268.9 L1361.3 277.9 L1398.3 241.0 L1407.2 241.0 L1428.9 216.7 L1428.9 192.8 L1440.9 179.8 L1440.9 154.5 L1474.8 154.5 L1484.8 143.9 L1495.8 154.5 L1565.6 154.5 L1575.2 144.9 L1575.2 130.9 L1586.5 141.9 L1609.5 117.9 L1620.4 117.9 L1631.4 129.3 L1642.4 117.9 L1695.3 117.9 L1707.2 106.0 L1721.2 106.0 L1732.2 117.9 L1743.1 117.9 L1765.1 141.9 L1721.2 142.9 L1687.3 179.8 L1687.3 192.8 L1665.3 216.7 L1653.4 216.7 L1642.4 228.7 L1653.4 241.6 L1642.4 253.6 L1642.4 279.5 L1653.4 292.5 L1653.4 303.5 L1665.3 316.4 L1675.3 316.4 L1665.5 326.9 L1642.5 327.5 L1619.6 351.8 L1609.6 352.8 L1597.7 364.8 L1597.7 376.8 L1586.7 389.8 L1586.7 436.6 L1597.7 449.6 L1597.7 463.6 L1575.7 464.0 L1564.1 476.5 L1564.4 550.7 L1541.5 575.7 L1541.5 599.6 L1508.6 600.0 L1496.6 612.0 L1486.6 612.6 L1473.7 624.5 L1462.7 625.1 L1440.5 649.9 L1440.5 661.8 L1429.6 674.2 L1429.6 686.8 L1384.7 735.7 L1371.7 736.3 L1361.7 747.6 L1361.7 760.6 L1339.4 785.5 L1339.1 798.0 L1328.1 810.0 L1328.1 822.9 L1339.1 834.9 L1306.1 835.5 L1295.2 847.5 L1272.2 847.9 L1261.2 859.8 L1249.3 859.8 L1243.3 866.8 L1238.3 872.2 L1227.3 872.2 L1215.4 859.8 L1193.4 859.8 L1182.4 872.2 L1171.5 872.2 L1126.0 921.7 L1126.0 946.6 L1136.6 958.6 L1136.6 970.5 L1113.6 970.5 L1102.6 982.5 L1091.7 970.5 L1081.7 982.5 L1069.3 969.6 L1069.3 958.6 L1058.8 946.6 L1046.8 946.6 L1035.8 936.6 L1035.8 921.7 L1024.8 909.3 L1012.9 909.3 L1002.9 921.3 L991.9 920.7 L1002.3 909.7 L1002.3 896.7 L1013.9 883.8 L1013.9 872.2 L1024.8 859.8 L1024.8 837.9 L1036.2 825.9 L1036.2 790.0 L1035.9 759.8 L1047.5 747.8 L1047.5 723.8 L1058.3 711.9 L1058.3 666.0 L1069.0 662.4 L1080.9 649.5 L1091.9 649.1 L1103.5 636.5 L1103.5 623.5 L1125.8 599.6 L1125.8 574.7 L1115.5 563.7 L1115.5 513.4 L1137.8 512.8 L1148.8 501.8 L1148.8 476.9 L1159.8 465.9 L1159.8 451.0 Z"/></clipPath>
<g clip-path="url(#clip2)">
<rect x="960" y="90" width="840" height="920" fill="#003cff"/>
<path d="M1291.5 300.8 L1301.5 308.8 L1301.9 324.8 L1305.5 338.7 L1315.5 348.7 L1329.4 354.7 L1349.4 358.7 L1369.3 363.7 L1389.3 364.7 L1409.2 363.7 L1429.2 358.7 L1449.1 351.7 L1469.1 344.7 L1483.0 336.7 L1494.0 326.7 L1497.9 319.9 L1502.9 306.0 L1501.7 286.5 L1496.8 266.6 L1496.8 246.6 L1505.7 226.7 L1518.7 219.7 L1530.7 221.7 L1541.6 228.7 L1551.6 238.6 L1563.6 247.6 L1569.6 241.6 L1586.5 235.6 L1599.5 238.6 L1607.5 244.6 L1618.5 254.6 L1619.5 266.6 L1599.5 275.5 L1586.5 277.5 L1569.6 277.5 L1561.6 281.5 L1553.6 291.5 L1548.6 306.5 L1549.8 302.0 L1549.8 313.9 L1553.8 322.9 L1559.8 332.9 L1571.7 341.9 L1585.7 347.9 L1599.7 345.9 L1617.6 340.9 L1631.6 337.9 L1651.5 332.9 L1800.0 330.0 L1800.0 80.0 L1290.0 80.0 Z" fill="#00bbff"/>
<path d="M1204.6 441.0 L1216.6 444.0 L1226.6 455.0 L1238.6 457.6 L1240.5 449.0 L1249.5 440.0 L1285.4 440.0 L1287.4 442.0 L1293.0 454.0 L1291.4 473.9 L1282.4 485.9 L1269.5 490.9 L1257.5 487.9 L1247.5 479.9 L1240.5 469.9 L1238.6 465.9 L1225.6 466.9 L1224.6 467.9 L1217.6 477.9 L1204.6 481.9 L1192.7 474.9 L1186.1 462.9 L1187.7 452.0 L1193.7 445.0 Z" fill="#00bbff"/>
<path d="M1239.7 450.0 L1247.6 440.5 L1257.6 433.5 L1269.6 432.5 L1279.6 436.5 L1287.5 444.5 L1292.5 454.4 L1239.7 454.4 Z" fill="#00bbff"/>
<path d="M1314.5 300.8 L1313.1 318.8 L1315.5 330.7 L1325.4 339.7 L1337.4 343.1 L1349.4 341.7 L1359.4 343.7 L1367.3 348.7 L1379.3 353.7 L1395.3 355.7 L1411.2 353.7 L1423.2 345.7 L1433.2 334.7 L1439.2 320.8 L1440.1 304.8 L1437.2 284.9 L1432.2 264.9 L1427.2 245.0 L1421.2 225.0 L1415.2 217.0 L1359.4 245.0 Z" fill="#00ffc7"/>
<path d="M1542.6 150.9 L1544.6 174.8 L1548.6 194.8 L1559.6 212.7 L1573.6 220.7 L1591.5 223.7 L1609.5 220.7 L1621.4 212.7 L1628.4 198.7 L1632.4 174.8 L1636.4 150.9 L1642.4 134.9 L1654.4 124.9 L1665.3 127.9 L1679.3 137.9 L1689.3 144.9 L1705.2 158.8 L1729.2 160.8 L1779.1 160.8 L1779.1 95.0 L1542.6 95.0 Z" fill="#00ffc7"/>
<path d="M1448.9 162.8 L1462.8 159.2 L1474.8 167.8 L1477.4 179.8 L1473.8 190.8 L1463.8 199.1 L1449.9 196.7 L1441.9 184.8 L1442.9 171.8 Z" fill="#00ffc7"/>
<path d="M1586.7 306.4 L1597.7 309.0 L1602.2 316.9 L1600.6 327.9 L1586.7 333.9 L1578.7 326.9 L1576.7 315.9 Z" fill="#00ffc7"/>
<path d="M1271.5 445.6 L1280.4 455.0 L1283.0 463.9 L1272.5 477.5 L1261.5 473.9 L1253.9 462.9 L1257.5 449.6 Z" fill="#00ffc7"/>
<path d="M1259.6 450.0 L1265.6 445.4 L1271.6 446.0 L1276.6 450.0 Z" fill="#00ffc7"/>
<path d="M1326.4 311.8 L1334.4 309.2 L1341.4 310.8 L1345.8 317.8 L1343.4 326.7 L1335.4 330.7 L1326.4 327.7 L1324.4 318.8 Z" fill="#00ff4d"/>
<path d="M1696.3 118.5 L1707.2 106.6 L1721.2 106.0 L1732.2 117.3 L1741.1 118.5 L1733.2 129.9 L1720.2 134.5 L1705.2 129.3 Z" fill="#00ff4d"/>
<path d="M1395.3 281.5 L1408.2 284.9 L1419.2 294.8 L1425.2 308.8 L1425.6 322.8 L1419.2 336.7 L1408.2 345.7 L1395.3 349.1 L1381.3 342.7 L1369.3 330.7 L1364.3 314.8 L1367.3 300.8 L1375.3 288.8 L1384.3 283.5 Z" fill="#00ff4d"/>
<path d="M1395.3 294.8 L1407.2 297.8 L1415.2 306.8 L1418.2 318.8 L1416.2 330.7 L1408.2 339.7 L1396.3 343.1 L1385.3 338.7 L1376.3 328.7 L1374.3 315.8 L1378.3 303.8 L1386.3 296.8 Z" fill="#2eff00"/>
<path d="M1395.3 301.8 L1405.2 305.8 L1411.2 314.8 L1412.8 322.8 L1408.2 332.7 L1396.3 337.7 L1385.3 331.7 L1380.3 321.8 L1382.3 310.8 L1388.3 304.8 Z" fill="#a8ff00"/>
<path d="M1396.3 307.8 L1404.2 312.8 L1408.2 320.8 L1404.2 329.7 L1396.3 333.3 L1389.3 328.7 L1386.3 319.8 L1389.3 311.8 Z" fill="#ffe000"/>
<path d="M1393.7 313.4 L1399.7 315.8 L1398.3 327.7 L1394.9 329.1 L1392.7 319.8 Z" fill="#ff6600"/>
<path d="M1556.6 150.9 L1555.6 174.8 L1559.6 190.8 L1569.6 206.7 L1585.5 214.7 L1601.5 212.7 L1613.5 204.7 L1620.4 188.8 L1622.4 170.8 L1620.4 150.9 L1614.5 134.9 L1605.5 124.9 L1601.5 115.0 L1556.6 115.0 Z" fill="#00ff4d"/>
<path d="M1586.5 141.9 L1573.6 146.9 L1565.6 156.8 L1562.6 174.8 L1565.6 190.8 L1573.6 202.7 L1587.5 208.7 L1601.5 204.7 L1611.5 194.8 L1616.5 178.8 L1615.5 160.8 L1609.5 148.9 L1599.5 142.9 Z" fill="#2eff00"/>
<path d="M1587.5 151.9 L1575.6 156.8 L1569.6 168.8 L1568.6 182.8 L1573.6 194.8 L1587.5 202.7 L1599.5 198.7 L1608.5 188.8 L1611.5 176.8 L1608.5 162.8 L1599.5 153.9 Z" fill="#a8ff00"/>
<path d="M1587.5 158.8 L1577.6 163.8 L1573.6 174.8 L1574.6 185.8 L1580.5 194.8 L1589.5 197.7 L1599.5 192.8 L1605.5 182.8 L1605.5 172.8 L1600.5 162.8 Z" fill="#ffe000"/>
<path d="M1586.5 165.8 L1578.6 175.8 L1577.6 180.8 L1584.5 192.8 L1597.5 188.8 L1601.5 178.8 L1597.5 169.8 Z" fill="#ff6600"/>
<path d="M1586.5 173.4 L1583.1 178.8 L1586.5 185.8 L1596.5 179.8 Z" fill="#ff0018"/>
<path d="M1519.3 177.8 L1529.7 177.8 L1530.9 180.4 L1529.7 182.8 L1519.3 182.8 L1518.1 180.4 Z" fill="#003cff"/>
<path d="M1653.4 165.8 L1664.3 170.8 L1669.7 180.8 L1666.9 194.8 L1654.4 198.7 L1646.4 188.8 L1642.0 179.8 L1646.4 171.8 Z" fill="#003cff"/>
<path d="M1642.4 229.7 L1632.4 240.6 L1621.4 254.6 L1620.4 266.6 L1629.4 278.5 L1642.4 286.5 L1652.4 288.5 L1679.3 288.5 L1679.3 229.7 Z" fill="#003cff"/>
<path d="M1181.8 422.5 L1213.7 421.5 L1229.7 414.5 L1239.7 406.5 L1249.6 398.6 L1259.6 402.6 L1269.6 404.6 L1279.6 401.6 L1286.5 389.6 L1272.6 364.7 L1276.6 354.7 L1283.5 344.7 L1287.5 332.7 L1289.1 312.8 L1239.7 304.8 L1169.8 364.7 L1169.8 422.5 Z" fill="#4200ff"/>
<path d="M1147.8 463.9 L1159.8 465.9 L1163.7 473.9 L1171.7 483.9 L1181.7 491.9 L1195.7 497.9 L1209.6 500.8 L1221.6 504.8 L1233.6 511.8 L1240.5 519.8 L1246.5 531.8 L1252.5 540.7 L1260.5 547.7 L1271.5 551.7 L1283.4 548.7 L1294.4 544.7 L1305.4 548.7 L1317.4 555.7 L1329.3 558.7 L1341.3 557.7 L1351.3 552.7 L1359.3 543.7 L1365.2 531.8 L1364.8 519.8 L1360.2 509.8 L1351.3 500.8 L1339.3 496.9 L1327.3 492.9 L1317.4 485.9 L1312.4 473.9 L1310.4 460.0 L1312.4 446.0 L1314.5 428.5 L1309.5 416.5 L1302.5 404.6 L1300.5 389.6 L1307.5 382.6 L1315.5 374.6 L1327.4 370.6 L1339.4 373.6 L1351.4 380.6 L1362.3 391.6 L1373.3 388.6 L1383.3 378.6 L1395.3 374.6 L1407.2 377.6 L1417.2 383.6 L1429.2 383.6 L1439.2 373.6 L1451.1 366.6 L1463.1 363.7 L1479.1 364.7 L1500.0 371.6 L1519.9 366.8 L1529.8 365.8 L1551.8 369.4 L1571.7 364.8 L1587.7 362.8 L1599.7 361.8 L1619.6 359.8 L1750.0 400.0 L1750.0 1010.0 L960.0 1010.0 L960.0 470.0 Z" fill="#4200ff"/>
<path d="M1518.7 251.6 L1529.7 248.6 L1531.7 254.6 L1519.7 255.6 Z" fill="#4200ff"/>
<path d="M1461.7 499.9 L1473.7 503.4 L1483.6 512.8 L1488.6 523.8 L1490.6 535.8 L1488.6 549.7 L1483.6 561.7 L1473.7 572.7 L1462.7 575.3 L1451.7 569.7 L1440.7 559.7 L1433.8 547.7 L1431.2 533.8 L1433.8 519.8 L1439.8 508.8 L1450.7 502.2 Z" fill="#003cff"/>
<path d="M1462.7 574.1 L1472.7 587.6 L1477.7 599.6 L1473.7 612.6 L1462.7 617.6 L1451.7 611.6 L1447.7 599.6 L1452.7 588.6 Z" fill="#003cff"/>
<path d="M1109.9 513.4 L1137.8 512.8 L1147.8 511.8 L1159.8 525.8 L1163.7 535.8 L1169.7 545.7 L1179.7 554.7 L1195.7 560.7 L1211.6 564.7 L1223.6 570.7 L1235.6 579.7 L1249.5 588.0 L1259.5 586.6 L1272.5 586.6 L1287.4 599.6 L1291.9 623.9 L1305.9 636.9 L1327.8 639.5 L1339.8 645.5 L1350.8 658.9 L1353.8 673.8 L1352.2 697.8 L1355.8 709.7 L1371.1 736.3 L1383.7 757.6 L1420.0 1010.0 L960.0 1010.0 L960.0 500.0 Z" fill="#c200ff"/>
<path d="M1328.3 588.2 L1338.3 588.6 L1347.7 599.6 L1346.3 612.6 L1340.3 622.5 L1330.3 624.5 L1327.3 627.5 L1314.4 611.6 L1316.4 599.6 Z" fill="#c200ff"/>
<path d="M1462.1 376.2 L1471.1 382.6 L1477.5 389.6 L1475.1 402.6 L1462.1 410.5 L1451.1 404.6 L1446.1 390.6 L1453.1 381.6 Z" fill="#c200ff"/>
<path d="M1193.8 402.2 L1214.7 380.6 L1217.3 389.6 L1209.3 401.6 L1203.7 404.0 L1197.4 400.6 Z" fill="#c200ff"/>
<path d="M1584.7 376.2 L1603.6 376.8 L1603.6 413.7 L1586.7 413.7 L1574.7 404.7 L1571.7 391.7 L1577.7 381.8 Z" fill="#c200ff"/>
<path d="M1586.1 436.6 L1603.6 436.6 L1603.6 469.6 L1568.7 470.5 L1566.7 463.6 L1569.3 451.6 L1575.7 443.6 Z" fill="#c200ff"/>
<path d="M1068.0 649.5 L1080.9 649.5 L1091.5 649.5 L1096.9 665.0 L1098.4 674.0 L1093.8 687.9 L1081.8 696.3 L1069.8 696.9 L1058.3 693.9 L1039.9 693.9 Z" fill="#4200ff"/>
<path d="M1136.8 583.2 L1147.8 584.0 L1153.8 588.6 L1159.8 600.6 L1157.8 612.6 L1147.8 622.5 L1137.8 622.5 L1125.8 613.6 L1122.2 603.6 L1125.8 591.6 Z" fill="#ff00bf"/>
<path d="M1204.6 590.0 L1216.6 598.6 L1214.6 609.6 L1204.6 617.2 L1196.7 612.0 L1192.1 601.2 Z" fill="#ff00bf"/>
<path d="M1069.3 810.0 L1080.7 807.0 L1084.1 810.0 L1080.7 819.9 Z" fill="#ff00bf"/>
<path d="M1079.7 856.8 L1091.7 861.8 L1100.6 871.8 L1106.6 884.8 L1102.0 898.7 L1091.7 908.7 L1080.7 913.3 L1068.7 907.7 L1059.8 896.7 L1057.4 883.8 L1059.8 870.8 L1068.7 859.8 Z" fill="#ff00bf"/>
<path d="M1137.6 865.4 L1148.5 866.8 L1154.5 872.8 L1157.9 883.8 L1138.6 903.7 L1126.6 896.7 L1119.6 884.8 L1125.6 871.8 Z" fill="#ff00bf"/>
<path d="M1079.7 940.6 L1086.1 946.6 L1087.7 958.6 L1079.7 965.2 L1070.1 962.6 L1067.7 951.6 L1068.7 943.6 Z" fill="#ff00bf"/>
<path d="M1395.7 252.1 L1397.1 253.5 L1395.7 254.9 L1394.3 253.5 Z" fill="#00ff4d"/>
<path d="M1204.5 671.2 L1207.1 673.6 L1204.5 676.0 L1201.9 673.6 Z" fill="#ff00bf"/>
<path d="M1395.7 671.8 L1397.9 673.8 L1395.7 676.0 L1393.5 673.8 Z" fill="#003cff"/>
<path d="M1271.5 461.9 L1273.3 463.5 L1271.5 465.1 L1269.7 463.5 Z" fill="#00ff4d"/>
<path d="M1115.5 513.4 L1119.9 513.4 L1119.9 516.8 L1115.5 516.8 Z" fill="#003cff"/>
</g>
<path d="M1166.8 431.5 L1182.8 430.1 L1178.8 422.5 L1174.8 411.5 L1170.2 405.5 L1172.8 401.6 L1180.8 397.0 L1197.8 394.6 L1199.8 385.6 L1210.7 381.6 L1209.3 368.6 L1206.1 361.7 L1208.7 358.7 L1217.7 355.7 L1225.7 351.7 L1226.7 345.7 L1237.7 342.7 L1243.6 333.7 L1251.6 323.8 L1259.6 315.8 L1269.6 312.8 L1273.6 313.8 L1281.5 304.8 L1289.5 305.8 L1305.5 296.8 L1314.5 295.8 L1321.4 291.8 L1333.4 289.8 L1342.4 278.9 L1344.4 271.9 L1348.4 264.9 L1357.4 267.9 L1366.3 267.9 L1377.3 262.9 L1383.3 249.9 L1387.3 245.0 L1395.3 237.0 L1401.2 232.6 L1414.2 231.0 L1416.2 225.0 L1421.9 208.7 L1422.9 196.7 L1431.9 178.8 L1429.9 158.8 L1440.9 149.9 L1442.9 140.9 L1447.9 143.9 L1457.9 141.9 L1461.8 148.9 L1471.8 147.9 L1479.8 142.9 L1485.8 142.5 L1491.8 147.9 L1499.8 150.9 L1505.7 147.9 L1519.7 147.9 L1529.7 150.9 L1539.7 148.9 L1549.6 153.9 L1559.6 152.9 L1565.6 147.9 L1569.6 130.9 L1576.6 126.9 L1585.5 132.9 L1601.5 124.9 L1604.5 115.9 L1618.5 115.0 L1621.4 117.9 L1631.4 118.9 L1641.4 115.9 L1649.4 109.0 L1652.4 111.0 L1669.3 110.0 L1671.3 108.0 L1678.3 109.0 L1683.3 108.0 L1689.3 110.0 L1703.2 104.6 L1723.2 104.0 L1727.2 102.0 L1731.2 104.0 L1737.2 112.0 L1747.1 117.9 L1757.1 124.9 L1769.1 132.9 L1777.1 132.9 L1780.0 137.9 L1777.1 143.9 L1763.1 146.9 L1759.1 150.9 L1748.1 152.9 L1743.1 149.9 L1729.2 150.9 L1723.2 153.9 L1714.2 156.8 L1710.2 168.8 L1709.2 176.8 L1699.3 173.8 L1694.3 182.8 L1693.3 190.8 L1685.3 196.7 L1681.3 203.7 L1683.3 209.7 L1674.3 214.7 L1666.3 222.7 L1653.4 227.7 L1655.4 234.7 L1660.3 243.6 L1652.4 252.6 L1649.4 262.6 L1650.4 284.5 L1654.5 290.0 L1657.5 296.0 L1667.5 306.0 L1678.5 312.9 L1679.5 318.9 L1675.5 322.9 L1670.5 323.9 L1668.5 329.9 L1659.5 331.9 L1656.5 330.9 L1651.5 332.9 L1646.5 330.9 L1635.6 339.9 L1630.6 344.9 L1623.6 353.8 L1617.6 353.8 L1607.6 358.8 L1603.6 360.8 L1605.6 365.8 L1601.6 369.8 L1602.6 375.8 L1597.7 381.8 L1595.7 389.8 L1587.7 398.7 L1588.7 403.7 L1590.7 407.7 L1587.7 413.7 L1582.7 420.7 L1585.7 427.7 L1591.7 433.6 L1597.4 440.0 L1604.3 443.0 L1606.3 452.0 L1604.3 457.0 L1599.4 458.0 L1598.4 465.9 L1591.4 469.9 L1582.4 468.9 L1575.4 473.9 L1572.4 479.9 L1573.4 488.9 L1571.4 493.9 L1574.4 499.9 L1573.4 503.8 L1568.4 504.8 L1569.4 515.8 L1571.4 525.8 L1570.4 533.8 L1566.4 543.7 L1567.4 549.7 L1571.4 553.7 L1563.4 560.7 L1554.5 567.7 L1545.5 571.7 L1543.1 575.7 L1543.9 587.6 L1543.3 600.0 L1546.9 607.0 L1542.3 611.6 L1536.3 611.0 L1531.3 606.0 L1525.3 601.0 L1517.4 602.0 L1513.4 608.0 L1504.4 610.0 L1499.4 615.0 L1489.4 617.0 L1485.0 614.0 L1484.4 620.0 L1475.5 627.9 L1466.5 630.9 L1462.5 636.9 L1446.5 641.5 L1443.5 647.9 L1441.5 659.9 L1442.5 663.8 L1437.6 671.8 L1435.6 685.8 L1429.6 690.8 L1426.6 702.7 L1419.6 705.7 L1411.6 712.7 L1402.6 721.7 L1397.7 731.7 L1391.7 736.7 L1381.7 737.3 L1372.7 742.6 L1365.7 746.6 L1362.7 751.6 L1364.7 756.6 L1369.7 757.6 L1368.7 763.6 L1360.7 767.6 L1353.8 779.6 L1348.8 786.5 L1349.0 790.0 L1346.0 796.0 L1343.0 802.0 L1339.1 805.0 L1336.1 811.9 L1338.1 817.9 L1340.0 824.9 L1344.0 831.9 L1343.0 836.9 L1337.1 834.9 L1329.1 835.9 L1321.1 837.9 L1317.1 841.9 L1309.1 842.9 L1303.1 847.9 L1297.2 847.9 L1291.2 849.9 L1283.2 852.8 L1281.2 855.8 L1273.2 856.8 L1267.2 857.8 L1265.2 865.8 L1259.3 863.8 L1253.3 864.8 L1247.3 866.8 L1246.3 858.8 L1242.3 859.8 L1243.3 867.8 L1242.3 877.8 L1237.3 878.8 L1233.3 881.8 L1228.3 880.8 L1220.3 876.8 L1217.4 871.8 L1210.4 867.8 L1204.4 868.8 L1196.4 867.4 L1187.4 868.8 L1178.5 873.8 L1177.5 880.8 L1171.5 882.8 L1165.5 883.8 L1160.5 887.8 L1159.5 897.7 L1153.5 903.7 L1149.5 903.7 L1143.5 907.7 L1136.6 912.7 L1131.6 913.7 L1133.6 917.7 L1135.6 923.7 L1131.6 927.7 L1134.6 932.6 L1137.6 937.6 L1134.6 941.6 L1133.6 947.6 L1136.6 955.6 L1137.6 961.6 L1138.6 966.6 L1144.5 969.6 L1137.6 975.5 L1125.6 976.5 L1117.6 977.5 L1111.6 977.5 L1104.6 978.5 L1105.6 984.5 L1103.6 988.5 L1099.7 987.5 L1097.7 982.5 L1091.7 980.5 L1086.7 982.5 L1079.7 983.5 L1075.7 979.5 L1071.7 973.5 L1066.7 967.6 L1065.7 956.6 L1057.8 954.6 L1049.8 951.6 L1044.8 945.6 L1036.8 939.6 L1033.8 932.6 L1031.8 921.7 L1026.8 921.7 L1021.8 918.7 L1012.9 919.7 L1006.9 925.7 L1003.9 930.6 L996.9 927.7 L987.9 926.7 L980.0 925.7 L975.0 922.7 L977.0 918.7 L986.9 917.7 L991.9 909.7 L993.9 903.7 L990.9 897.7 L991.9 893.7 L997.9 888.8 L1007.9 883.8 L1012.9 873.8 L1016.9 868.8 L1015.9 861.8 L1014.9 853.8 L1018.9 847.9 L1020.8 836.9 L1025.8 831.9 L1031.8 829.9 L1036.8 824.9 L1032.8 815.9 L1027.8 811.9 L1032.8 800.0 L1031.8 790.0 L1032.9 789.7 L1027.9 785.7 L1023.9 778.7 L1027.9 777.7 L1033.9 771.7 L1032.9 754.8 L1041.9 748.8 L1042.9 741.8 L1036.9 736.8 L1037.9 729.8 L1042.9 723.8 L1046.9 715.9 L1049.9 704.9 L1055.9 701.9 L1054.9 694.9 L1052.9 688.9 L1056.9 685.9 L1055.9 680.0 L1056.9 663.0 L1059.9 663.6 L1068.8 666.0 L1071.0 656.5 L1074.0 646.5 L1078.0 639.5 L1088.9 643.5 L1096.9 642.5 L1099.9 631.5 L1096.9 624.5 L1101.9 615.6 L1105.9 614.6 L1106.9 610.6 L1111.9 604.6 L1121.8 602.6 L1118.9 598.6 L1117.9 591.6 L1119.9 583.6 L1117.9 577.7 L1114.9 569.7 L1115.9 564.7 L1107.9 561.7 L1104.9 554.7 L1107.5 545.7 L1107.9 535.8 L1106.3 524.8 L1109.5 519.8 L1109.9 511.8 L1113.9 504.8 L1125.8 501.8 L1135.8 501.8 L1138.8 496.9 L1137.8 488.9 L1139.8 484.9 L1147.8 475.9 L1151.8 469.9 L1149.8 460.0 L1153.8 451.0 L1163.7 446.0 L1168.7 440.0 Z" fill="none" stroke="#000" stroke-width="2.1" stroke-linejoin="round"/>
</g>
<rect x="119.75" y="56.15" width="486.75" height="980.25" fill="none" stroke="#000" stroke-width="1.7"/>
<rect x="935.1" y="56.15" width="887.10" height="976.70" fill="none" stroke="#000" stroke-width="1.7"/>
<rect x="660.9" y="971.05" width="24.00" height="65.75" fill="#ff00bd"/>
<rect x="660.9" y="905.70" width="24.00" height="65.75" fill="#d400ff"/>
<rect x="660.9" y="840.35" width="24.00" height="65.75" fill="#6e00ff"/>
<rect x="660.9" y="775.00" width="24.00" height="65.75" fill="#1000ff"/>
<rect x="660.9" y="709.65" width="24.00" height="65.75" fill="#0055ff"/>
<rect x="660.9" y="644.30" width="24.00" height="65.75" fill="#00acff"/>
<rect x="660.9" y="578.95" width="24.00" height="65.75" fill="#00ffee"/>
<rect x="660.9" y="513.60" width="24.00" height="65.75" fill="#00ff8c"/>
<rect x="660.9" y="448.25" width="24.00" height="65.75" fill="#00ff2c"/>
<rect x="660.9" y="382.90" width="24.00" height="65.75" fill="#30ff00"/>
<rect x="660.9" y="317.55" width="24.00" height="65.75" fill="#8cff00"/>
<rect x="660.9" y="252.20" width="24.00" height="65.75" fill="#eeff00"/>
<rect x="660.9" y="186.85" width="24.00" height="65.75" fill="#ffac00"/>
<rect x="660.9" y="121.50" width="24.00" height="65.75" fill="#ff5000"/>
<rect x="660.9" y="56.15" width="24.00" height="65.75" fill="#ff0012"/>
<rect x="660.9" y="56.15" width="24.00" height="980.25" fill="none" stroke="#000" stroke-width="1.7"/>
<rect x="1877.3" y="951.46" width="23.60" height="81.79" fill="#ff00bf"/>
<rect x="1877.3" y="870.07" width="23.60" height="81.79" fill="#c200ff"/>
<rect x="1877.3" y="788.67" width="23.60" height="81.79" fill="#4200ff"/>
<rect x="1877.3" y="707.28" width="23.60" height="81.79" fill="#003cff"/>
<rect x="1877.3" y="625.89" width="23.60" height="81.79" fill="#00bbff"/>
<rect x="1877.3" y="544.50" width="23.60" height="81.79" fill="#00ffc7"/>
<rect x="1877.3" y="463.11" width="23.60" height="81.79" fill="#00ff4d"/>
<rect x="1877.3" y="381.72" width="23.60" height="81.79" fill="#2eff00"/>
<rect x="1877.3" y="300.32" width="23.60" height="81.79" fill="#a8ff00"/>
<rect x="1877.3" y="218.93" width="23.60" height="81.79" fill="#ffe000"/>
<rect x="1877.3" y="137.54" width="23.60" height="81.79" fill="#ff6600"/>
<rect x="1877.3" y="56.15" width="23.60" height="81.79" fill="#ff0018"/>
<rect x="1877.3" y="56.15" width="23.60" height="976.70" fill="none" stroke="#000" stroke-width="1.7"/>
<line x1="135.2" y1="1036.4" x2="135.2" y2="1044.2" stroke="#000" stroke-width="1.7"/>
<text x="135.2" y="1068.3000000000002" font-size="22.0" text-anchor="middle">75.4</text>
<line x1="245.45" y1="1036.4" x2="245.45" y2="1044.2" stroke="#000" stroke-width="1.7"/>
<text x="245.45" y="1068.3000000000002" font-size="22.0" text-anchor="middle">75.6</text>
<line x1="355.7" y1="1036.4" x2="355.7" y2="1044.2" stroke="#000" stroke-width="1.7"/>
<text x="355.7" y="1068.3000000000002" font-size="22.0" text-anchor="middle">75.8</text>
<line x1="465.95" y1="1036.4" x2="465.95" y2="1044.2" stroke="#000" stroke-width="1.7"/>
<text x="465.95" y="1068.3000000000002" font-size="22.0" text-anchor="middle">76.0</text>
<line x1="576.2" y1="1036.4" x2="576.2" y2="1044.2" stroke="#000" stroke-width="1.7"/>
<text x="576.2" y="1068.3000000000002" font-size="22.0" text-anchor="middle">76.2</text>
<line x1="111.95" y1="67.8" x2="119.75" y2="67.8" stroke="#000" stroke-width="1.7"/>
<text x="103.75" y="76.1" font-size="22.0" text-anchor="end">24.0</text>
<line x1="111.95" y1="188.07999999999998" x2="119.75" y2="188.07999999999998" stroke="#000" stroke-width="1.7"/>
<text x="103.75" y="196.38" font-size="22.0" text-anchor="end">23.8</text>
<line x1="111.95" y1="308.36" x2="119.75" y2="308.36" stroke="#000" stroke-width="1.7"/>
<text x="103.75" y="316.66" font-size="22.0" text-anchor="end">23.6</text>
<line x1="111.95" y1="428.64000000000004" x2="119.75" y2="428.64000000000004" stroke="#000" stroke-width="1.7"/>
<text x="103.75" y="436.94000000000005" font-size="22.0" text-anchor="end">23.4</text>
<line x1="111.95" y1="548.92" x2="119.75" y2="548.92" stroke="#000" stroke-width="1.7"/>
<text x="103.75" y="557.2199999999999" font-size="22.0" text-anchor="end">23.2</text>
<line x1="111.95" y1="669.1999999999999" x2="119.75" y2="669.1999999999999" stroke="#000" stroke-width="1.7"/>
<text x="103.75" y="677.4999999999999" font-size="22.0" text-anchor="end">23.0</text>
<line x1="111.95" y1="789.48" x2="119.75" y2="789.48" stroke="#000" stroke-width="1.7"/>
<text x="103.75" y="797.78" font-size="22.0" text-anchor="end">22.8</text>
<line x1="111.95" y1="909.76" x2="119.75" y2="909.76" stroke="#000" stroke-width="1.7"/>
<text x="103.75" y="918.06" font-size="22.0" text-anchor="end">22.6</text>
<line x1="111.95" y1="1030.04" x2="119.75" y2="1030.04" stroke="#000" stroke-width="1.7"/>
<text x="103.75" y="1038.34" font-size="22.0" text-anchor="end">22.4</text>
<line x1="949.5" y1="1032.85" x2="949.5" y2="1040.6499999999999" stroke="#000" stroke-width="1.7"/>
<text x="949.5" y="1064.75" font-size="22.0" text-anchor="middle">77.0</text>
<line x1="1077.45" y1="1032.85" x2="1077.45" y2="1040.6499999999999" stroke="#000" stroke-width="1.7"/>
<text x="1077.45" y="1064.75" font-size="22.0" text-anchor="middle">77.5</text>
<line x1="1205.4" y1="1032.85" x2="1205.4" y2="1040.6499999999999" stroke="#000" stroke-width="1.7"/>
<text x="1205.4" y="1064.75" font-size="22.0" text-anchor="middle">78.0</text>
<line x1="1333.35" y1="1032.85" x2="1333.35" y2="1040.6499999999999" stroke="#000" stroke-width="1.7"/>
<text x="1333.35" y="1064.75" font-size="22.0" text-anchor="middle">78.5</text>
<line x1="1461.3" y1="1032.85" x2="1461.3" y2="1040.6499999999999" stroke="#000" stroke-width="1.7"/>
<text x="1461.3" y="1064.75" font-size="22.0" text-anchor="middle">79.0</text>
<line x1="1589.25" y1="1032.85" x2="1589.25" y2="1040.6499999999999" stroke="#000" stroke-width="1.7"/>
<text x="1589.25" y="1064.75" font-size="22.0" text-anchor="middle">79.5</text>
<line x1="1717.2" y1="1032.85" x2="1717.2" y2="1040.6499999999999" stroke="#000" stroke-width="1.7"/>
<text x="1717.2" y="1064.75" font-size="22.0" text-anchor="middle">80.0</text>
<line x1="927.3000000000001" y1="110.5" x2="935.1" y2="110.5" stroke="#000" stroke-width="1.7"/>
<text x="919.1" y="118.8" font-size="22.0" text-anchor="end">26.0</text>
<line x1="927.3000000000001" y1="251.0" x2="935.1" y2="251.0" stroke="#000" stroke-width="1.7"/>
<text x="919.1" y="259.3" font-size="22.0" text-anchor="end">25.5</text>
<line x1="927.3000000000001" y1="391.5" x2="935.1" y2="391.5" stroke="#000" stroke-width="1.7"/>
<text x="919.1" y="399.8" font-size="22.0" text-anchor="end">25.0</text>
<line x1="927.3000000000001" y1="532.0" x2="935.1" y2="532.0" stroke="#000" stroke-width="1.7"/>
<text x="919.1" y="540.3" font-size="22.0" text-anchor="end">24.5</text>
<line x1="927.3000000000001" y1="672.5" x2="935.1" y2="672.5" stroke="#000" stroke-width="1.7"/>
<text x="919.1" y="680.8" font-size="22.0" text-anchor="end">24.0</text>
<line x1="927.3000000000001" y1="813.0" x2="935.1" y2="813.0" stroke="#000" stroke-width="1.7"/>
<text x="919.1" y="821.3" font-size="22.0" text-anchor="end">23.5</text>
<line x1="927.3000000000001" y1="953.5" x2="935.1" y2="953.5" stroke="#000" stroke-width="1.7"/>
<text x="919.1" y="961.8" font-size="22.0" text-anchor="end">23.0</text>
<text x="362.5" y="43" font-size="35.2" font-weight="bold" text-anchor="middle">Annual</text>
<text x="1379" y="43" font-size="35.2" font-weight="bold" text-anchor="middle">Annual</text>
<text x="363" y="1104.7" font-size="30.7" font-weight="bold" text-anchor="middle">Longitude</text>
<text x="1379" y="1100.9" font-size="30.7" font-weight="bold" text-anchor="middle">Longitude</text>
<text transform="translate(41.8,549.6) rotate(-90)" font-size="30.9" font-weight="bold" text-anchor="middle">Latitude</text>
<text transform="translate(857.3,547.7) rotate(-90)" font-size="30.9" font-weight="bold" text-anchor="middle">Latitude</text>
<line x1="684.9" y1="56.2" x2="693.1" y2="56.2" stroke="#000" stroke-width="1.7"/>
<text x="700.6" y="67.5" font-size="30.9" font-weight="bold">0.013</text>
<line x1="684.9" y1="578.7" x2="693.1" y2="578.7" stroke="#000" stroke-width="1.7"/>
<text x="700.6" y="590.0" font-size="30.9" font-weight="bold">0.011</text>
<line x1="1900.9" y1="272.9" x2="1909.1000000000001" y2="272.9" stroke="#000" stroke-width="1.7"/>
<text x="1916.6000000000001" y="284.2" font-size="30.9" font-weight="bold">0.02</text>
<line x1="1900.9" y1="815.8" x2="1909.1000000000001" y2="815.8" stroke="#000" stroke-width="1.7"/>
<text x="1916.6000000000001" y="827.0999999999999" font-size="30.9" font-weight="bold">0.01</text>
<text x="645" y="1085" font-size="30.5" font-weight="bold">SVI<tspan font-size="21.3" dy="4.8">ME</tspan></text>
<text x="1848" y="1081" font-size="30.5" font-weight="bold">SVI<tspan font-size="21.3" dy="4.8">ME</tspan></text>
<line x1="557.7" y1="90.8" x2="557.7" y2="206" stroke="#000" stroke-width="3.0" stroke-linecap="round"/>
<path d="M557.7 78.8 L567.2 97.4 L548.2 97.4 Z" stroke="#000" stroke-width="1.8" stroke-linejoin="round"/>
<text x="557.7" y="154" font-size="43.6" font-weight="bold" text-anchor="middle">N</text>
<line x1="1023.4" y1="90.8" x2="1023.4" y2="206" stroke="#000" stroke-width="3.0" stroke-linecap="round"/>
<path d="M1023.4 78.8 L1032.9 97.4 L1013.9 97.4 Z" stroke="#000" stroke-width="1.8" stroke-linejoin="round"/>
<text x="1023.4" y="154" font-size="43.6" font-weight="bold" text-anchor="middle">N</text>
</svg>
</body></html>
